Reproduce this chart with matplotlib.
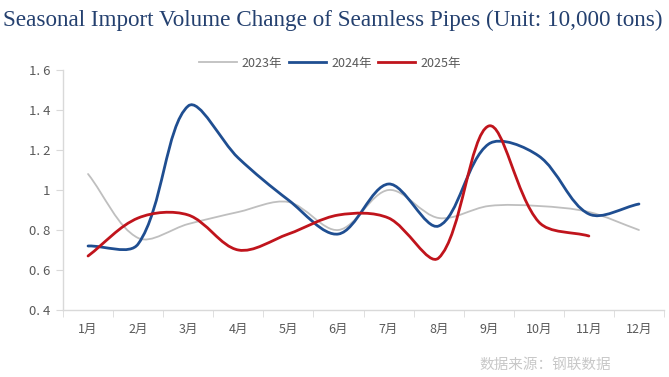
import matplotlib
matplotlib.use("Agg")
import matplotlib.pyplot as plt
from matplotlib.path import Path
from matplotlib.patches import PathPatch
from matplotlib.lines import Line2D
import numpy as np

plt.rcParams['font.family'] = ['Noto Sans CJK SC', 'DejaVu Sans']

months = ["1月", "2月", "3月", "4月", "5月", "6月", "7月", "8月", "9月", "10月", "11月", "12月"]
y2023 = [1.08, 0.76, 0.83, 0.89, 0.94, 0.80, 1.00, 0.86, 0.92, 0.92, 0.89, 0.80]
y2024 = [0.72, 0.73, 1.42, 1.16, 0.95, 0.78, 1.03, 0.82, 1.23, 1.17, 0.88, 0.93]
y2025 = [0.67, 0.86, 0.875, 0.70, 0.78, 0.875, 0.86, 0.66, 1.32, 0.84, 0.77]
series_names = ["2023年", "2024年", "2025年"]
yticks = [0.4, 0.6, 0.8, 1.0, 1.2, 1.4, 1.6]
ytick_labels = ["0. 4", "0. 6", "0. 8", "1", "1. 2", "1. 4", "1. 6"]

colors = ["#BFBFBF", "#1F4E91", "#C0141C"]
widths = [1.3, 2.0, 2.0]

W, H = 669, 377
fig = plt.figure(figsize=(W / 100, H / 100), dpi=100)
ax = fig.add_axes([63 / W, (H - 310) / H, (664 - 63) / W, (310 - 70) / H])
ax.set_xlim(-0.5, 11.5)
ax.set_ylim(0.4, 1.6)


def smooth_path(xs, ys):
    # Excel-like smoothing: tangents scaled by neighbouring segment lengths in display space
    disp = ax.transData.transform(np.column_stack([xs, ys]).astype(float))
    n = len(disp)
    verts = [disp[0]]
    codes = [Path.MOVETO]
    for i in range(n - 1):
        p0 = disp[i - 1] if i > 0 else disp[i]
        p1 = disp[i]
        p2 = disp[i + 1]
        p3 = disp[i + 2] if i + 2 < n else disp[i + 1]
        d01 = np.linalg.norm(p1 - p0)
        d12 = np.linalg.norm(p2 - p1)
        d23 = np.linalg.norm(p3 - p2)
        f1 = d12 / (d01 + d12) * 2 if (d01 + d12) > 0 else 0
        f2 = d12 / (d12 + d23) * 2 if (d12 + d23) > 0 else 0
        c1 = p1 + (p2 - p0) / 6.0 * f1
        c2 = p2 - (p3 - p1) / 6.0 * f2
        verts += [c1, c2, p2]
        codes += [Path.CURVE4] * 3
    data = ax.transData.inverted().transform(np.array(verts))
    return Path(data, codes)


for vals, c, lw in zip([y2023, y2024, y2025], colors, widths):
    xs = np.arange(len(vals))
    patch = PathPatch(smooth_path(xs, vals), facecolor="none", edgecolor=c,
                      lw=lw, capstyle="round", joinstyle="round")
    ax.add_patch(patch)

ax.set_yticks(yticks)
ax.set_yticklabels(ytick_labels)
ax.set_xticks(np.arange(12))
ax.set_xticklabels(months)
ax.set_xticks(np.arange(-0.5, 12, 1), minor=True)
ax.tick_params(axis="x", which="major", length=0, pad=9, labelsize=9, labelcolor="#595959")
ax.tick_params(axis="x", which="minor", length=5, color="#D9D9D9", direction="out")
ax.tick_params(axis="y", length=5, color="#D9D9D9", labelsize=9.5, labelcolor="#595959", pad=4)

for s in ["top", "right"]:
    ax.spines[s].set_visible(False)
for s in ["left", "bottom"]:
    ax.spines[s].set_color("#D9D9D9")
    ax.spines[s].set_linewidth(1.0)

handles = [Line2D([0], [0], color=c, lw=lw) for c, lw in zip(colors, widths)]
leg = fig.legend(handles, series_names, loc="center", bbox_to_anchor=(330 / W, (H - 63) / H),
                 ncol=3, frameon=False, fontsize=9, handlelength=3.0, handletextpad=0.4,
                 columnspacing=0.5, labelcolor="#595959")

fig.text(3 / W, (H - 20) / H, "Seasonal Import Volume Change of Seamless Pipes (Unit: 10,000 tons)",
         family="Liberation Serif", fontsize=16.7, color="#24406F", va="center", ha="left")
fig.text(611 / W, (H - 365) / H, "数据来源：钢联数据", fontsize=10.5, color="#C8C8C8",
         ha="right", va="center")

fig.savefig("out.png", dpi=100, facecolor="white")
